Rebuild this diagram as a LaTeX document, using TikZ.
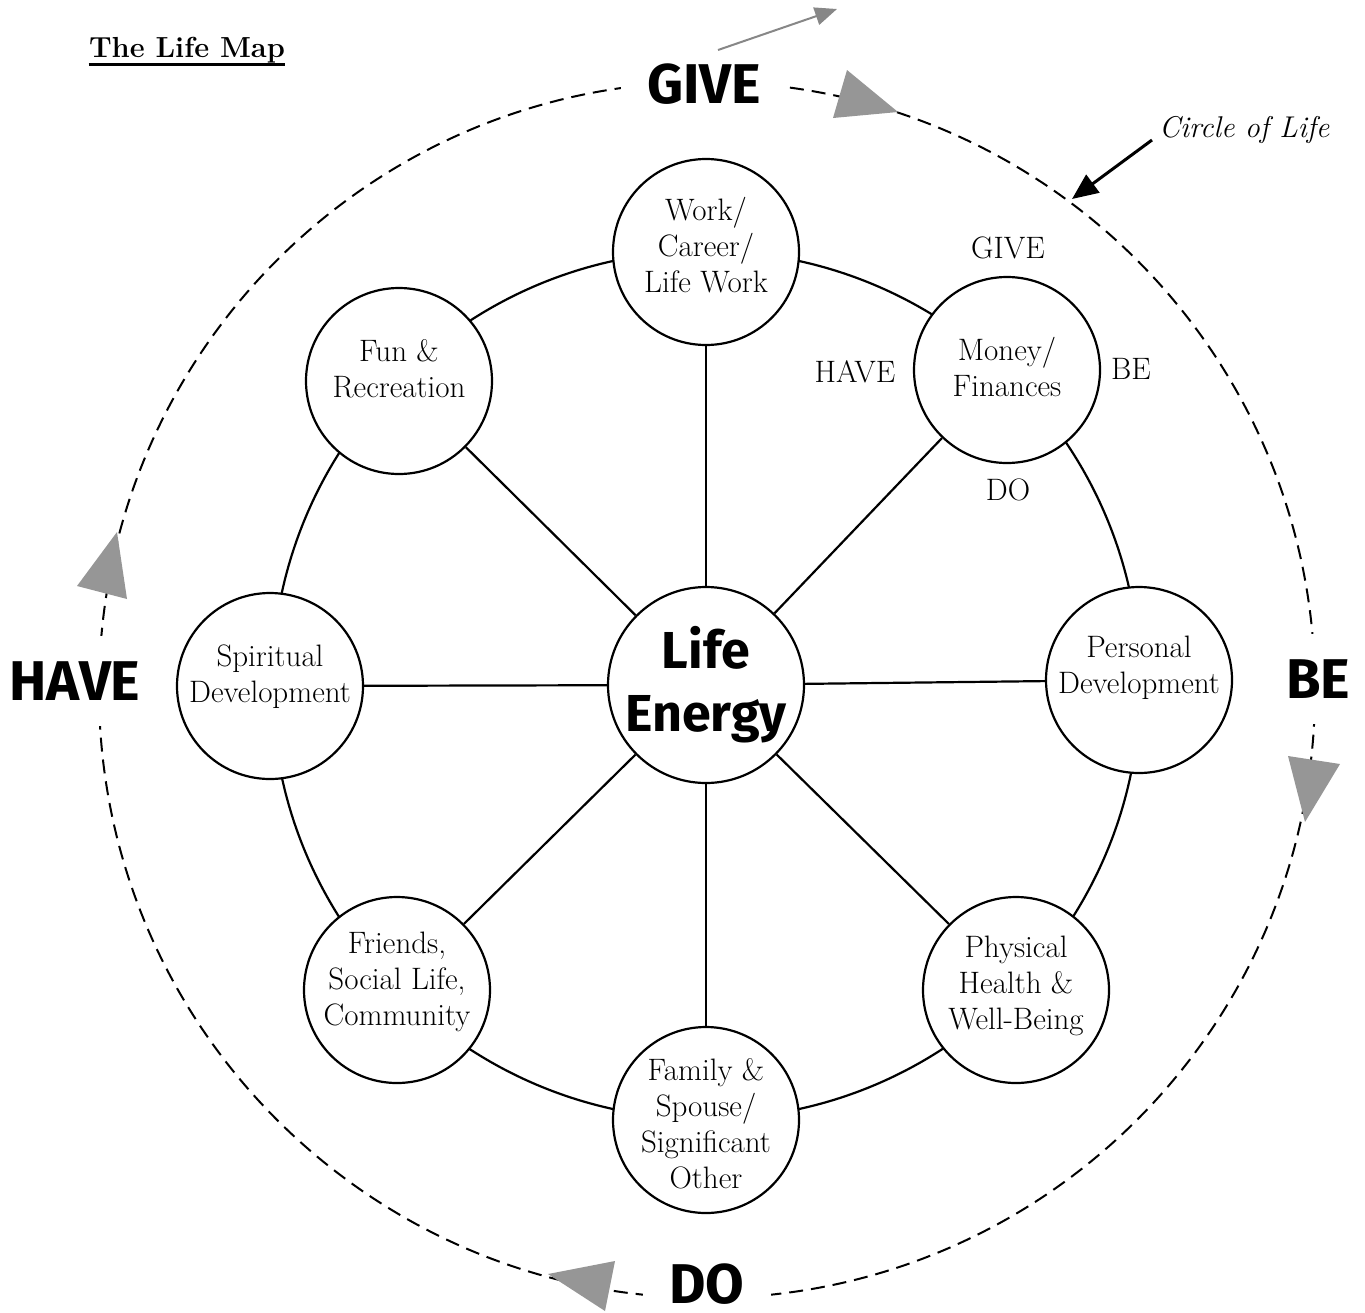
\documentclass[tikz,border=0pt]{standalone}
\usepackage{fontspec}
\newfontfamily\wheelfont{Fira Sans}
\usetikzlibrary{arrows.meta,positioning}
\definecolor{tipgray}{gray}{0.59}
\definecolor{pengray}{gray}{0.53}
\tikzset{
  area/.style={circle, draw, line width=1.1pt, fill=white, minimum size=93pt, inner sep=0pt},
  areatext/.style={align=center, font=\fontsize{15.5}{18}\selectfont},
  hubtext/.style={align=center, font=\wheelfont\bfseries\fontsize{26}{31.5}\selectfont},
  bigword/.style={font=\wheelfont\bfseries\fontsize{28}{30}\selectfont, fill=white, inner sep=13pt},
  smallword/.style={font=\fontsize{15.5}{18}\selectfont},
}

\begin{document}
\begin{tikzpicture}[x=0.5pt, y=-0.5pt]
  \useasboundingbox (0,0) rectangle (1365,1312);
  % Title
  \node[font=\bfseries\fontsize{14.5}{17}\selectfont, inner sep=0pt] (title) at (187,50) {The Life Map};
  \draw[line width=1.3pt] ([yshift=-3.5pt]title.base west) -- ([yshift=-3.5pt]title.base east);
  % Circle of Life (dashed) with its four words
  \coordinate (ring) at (707,690);
  \draw[dash pattern=on 7pt off 4pt, line width=1pt] (ring) circle[radius=304pt];
  \node[bigword] (give) at (704,84) {GIVE};
  \node[bigword] (be) at (1318,679) {BE};
  \node[bigword, inner ysep=1pt] (do) at (707,1284) {DO};
  \node[bigword] (have) at (75,681) {HAVE};
  % gray heads on the circle (clockwise)
  \foreach \ax/\ay/\bx/\by/\cx/\cy in {833/118/847/70/898/112, 1288/756/1340/764/1305/822,
                                      615/1261/605/1311/548/1274, 77/586/127/599/117/532}
    \fill[tipgray] (\ax,\ay) -- (\bx,\by) -- (\cx,\cy) -- cycle;
  % stray arrow above GIVE
  \coordinate (stray0) at (718,50);
  \coordinate (stray1) at (837,9);
  \draw[pengray, line width=1pt, -{Triangle[length=11pt,width=9pt]}] (stray0) -- (stray1);
  % Circle of Life label
  \node[font=\itshape\fontsize{15}{18}\selectfont, anchor=west] (col) at (1152,130) {Circle of Life};
  \coordinate (coltip) at (1072,199);
  \draw[line width=1.5pt, -{Triangle[length=13pt,width=11pt]}] ([yshift=-5pt]col.west) -- (coltip);
  % Rim of the wheel
  \coordinate (hub) at (706,685);
  \draw[line width=1.1pt] (hub) circle[radius=217pt];
  % Areas of life
  \node[area, label={[areatext, yshift=3.5pt]center:Work/\\Career/\\Life Work}] (work) at (706,252) {};
  \node[area, label={[areatext, yshift=1.5pt]center:Money/\\Finances}] (money) at (1007,370) {};
  \node[area, label={[areatext, yshift=6pt]center:Personal\\Development}] (personal) at (1139,680) {};
  \node[area, label={[areatext, yshift=2pt]center:Physical\\Health \&\\Well-Being}] (physical) at (1016,990) {};
  \node[area, label={[areatext, yshift=-2pt]center:Family \&\\Spouse/\\Significant\\Other}] (family) at (706,1120) {};
  \node[area, label={[areatext, yshift=4pt]center:Friends,\\Social Life,\\Community}] (friends) at (397,990) {};
  \node[area, label={[areatext, yshift=4.5pt]center:Spiritual\\Development}] (spiritual) at (270,686) {};
  \node[area, label={[areatext, yshift=6pt]center:Fun \&\\Recreation}] (fun) at (399,381) {};
  % Hub
  \node[area, minimum size=98pt, label={[hubtext]center:Life\\Energy}] (life) at (hub) {};
  % Spokes
  \foreach \n in {work,money,personal,physical,family,friends,spiritual,fun}
    \draw[line width=1.1pt] (life) -- (\n);
  % GIVE / HAVE / BE / DO round Money
  \node[smallword] (mgive) at (1008,248) {GIVE};
  \node[smallword] (mhave) at (855,372) {HAVE};
  \node[smallword] (mbe) at (1131,369) {BE};
  \node[smallword] (mdo) at (1008,490) {DO};
\end{tikzpicture}
\end{document}
